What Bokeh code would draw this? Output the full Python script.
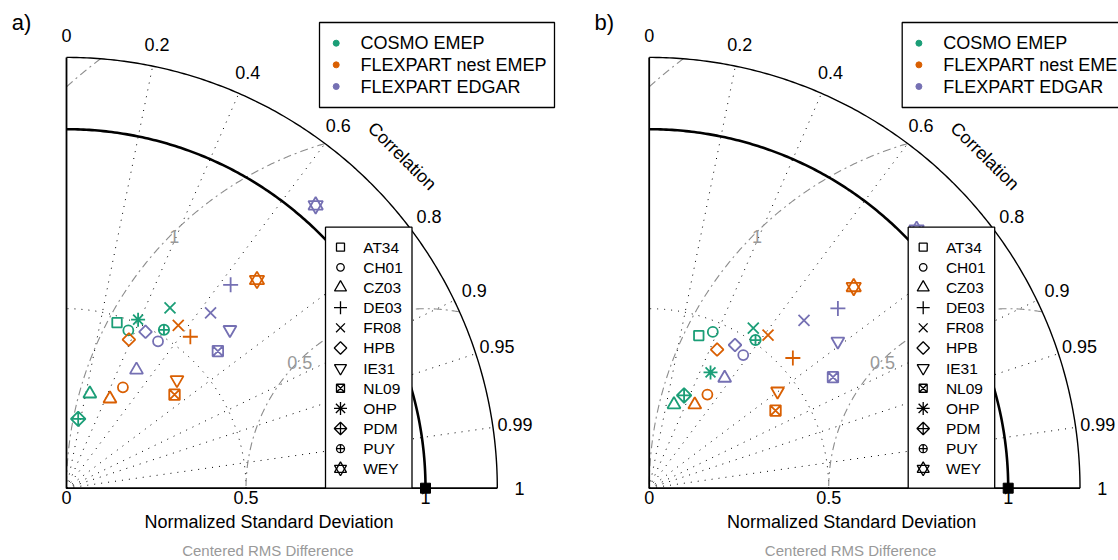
import numpy as np
from bokeh.plotting import figure
from bokeh.layouts import row
from bokeh.models import Range1d
from bokeh.core.properties import value
from bokeh.embed import file_html
from bokeh.resources import INLINE

nan = float("nan")

# ---------------- data ----------------
stations = ["AT34", "CH01", "CZ03", "DE03", "FR08", "HPB", "IE31", "NL09", "OHP", "PDM", "PUY", "WEY"]
models = ["COSMO EMEP", "FLEXPART nest EMEP", "FLEXPART EDGAR"]
model_colors = ["#1b9e77", "#d95f02", "#7570b3"]

corr_lines = [0.2, 0.4, 0.6, 0.8, 0.9, 0.95, 0.99]
corr_label_values = [0, 0.2, 0.4, 0.6, 0.8, 0.9, 0.95, 0.99, 1]
corr_label_texts = ["0", "0.2", "0.4", "0.6", "0.8", "0.9", "0.95", "0.99", "1"]
std_ticks = [0, 0.5, 1]
std_tick_labels = ["0", "0.5", "1"]
std_max = 1.2
rms_levels = [0.5, 1.0, 1.5]
rms_label_levels = [0.5, 1.0]
rms_label_texts = ["0.5", "1"]
panel_tags = ["a)", "b)"]

# panel a) normalized std and correlation per station (nan = not shown)
a_cosmo_std = [0.482, 0.472, 0.271, nan, 0.579, nan, nan, nan, 0.510, 0.196, 0.518, nan]
a_cosmo_corr = [0.292, 0.365, 0.240, nan, 0.498, nan, nan, nan, 0.391, 0.166, 0.524, nan]
a_nest_std = [nan, 0.322, 0.277, 0.545, 0.550, 0.449, 0.431, 0.398, nan, nan, nan, 0.786]
a_nest_corr = [nan, 0.488, 0.437, 0.633, 0.566, 0.387, 0.714, 0.756, nan, nan, nan, 0.675]
a_edgar_std = [nan, 0.482, 0.383, 0.728, 0.632, 0.488, 0.634, 0.569, nan, nan, nan, 1.050]
a_edgar_corr = [nan, 0.529, 0.509, 0.628, 0.635, 0.451, 0.718, 0.741, nan, nan, nan, 0.661]

# panel b)
b_cosmo_std = [0.447, 0.470, 0.243, nan, 0.532, nan, nan, nan, 0.365, 0.276, 0.508, nan]
b_cosmo_corr = [0.309, 0.377, 0.284, nan, 0.545, nan, nan, nan, 0.468, 0.352, 0.583, nan]
b_nest_std = [nan, 0.307, 0.265, 0.540, 0.540, 0.430, 0.448, 0.413, nan, nan, nan, 0.799]
b_nest_corr = [nan, 0.528, 0.479, 0.741, 0.613, 0.440, 0.798, 0.852, nan, nan, nan, 0.713]
b_edgar_std = [nan, 0.454, 0.372, 0.726, 0.636, 0.465, 0.666, 0.598, nan, nan, nan, 1.036]
b_edgar_corr = [nan, 0.577, 0.565, 0.724, 0.678, 0.514, 0.789, 0.856, nan, nan, nan, 0.719]

ref_std = [1.0]
ref_corr = [1.0]

panels = [
    [(a_cosmo_std, a_cosmo_corr), (a_nest_std, a_nest_corr), (a_edgar_std, a_edgar_corr)],
    [(b_cosmo_std, b_cosmo_corr), (b_nest_std, b_nest_corr), (b_edgar_std, b_edgar_corr)],
]

# ---------------- styles ----------------
FONT = value("Liberation Sans")
U = 359.0  # px per unit of normalized std
Q = np.pi / 4
H = 560
ORIGIN_Y = 487.7  # px from top

MARK = {
    "AT34": [("square", 9.5, 0)],
    "CH01": [("circle", 10, 0)],
    "CZ03": [("triangle", 13, 0)],
    "DE03": [("cross", 15, 0)],
    "FR08": [("x", 15.5, 0)],
    "HPB": [("square", 9, Q)],
    "IE31": [("inverted_triangle", 13, 0)],
    "NL09": [("square_x", 10.5, 0)],
    "OHP": [("asterisk", 14, 0)],
    "PDM": [("square_x", 10.3, Q)],
    "PUY": [("circle_cross", 10.3, 0)],
    "WEY": [("triangle", 14.5, 0), ("inverted_triangle", 14.5, 0)],
}
LMARK = {
    "AT34": [("square", 8, 0)],
    "CH01": [("circle", 7.5, 0)],
    "CZ03": [("triangle", 12, 0)],
    "DE03": [("cross", 13, 0)],
    "FR08": [("x", 12.5, 0)],
    "HPB": [("square", 8.8, Q)],
    "IE31": [("inverted_triangle", 12, 0)],
    "NL09": [("square_x", 8, 0)],
    "OHP": [("asterisk", 13, 0)],
    "PDM": [("square_x", 8.8, Q)],
    "PUY": [("circle_cross", 8, 0)],
    "WEY": [("triangle", 12, 0), ("inverted_triangle", 12, 0)],
}


def txt(p, x, y, t, size, color="black", align="center", baseline="middle", angle=0.0):
    p.text(x=[x], y=[y], text=[t], text_font=FONT, text_font_size=value(size),
           text_color=color, text_align=align, text_baseline=baseline, angle=angle)


def polar(std, corr):
    s = np.asarray(std, dtype=float)
    c = np.asarray(corr, dtype=float)
    return s * c, s * np.sqrt(np.clip(1 - c ** 2, 0, 1))


def make_panel(idx, left_px, width):
    x0 = -left_px / U
    p = figure(width=width, height=H, x_range=Range1d(x0, x0 + width / U),
               y_range=Range1d(-(H - ORIGIN_Y) / U, ORIGIN_Y / U),
               output_backend="svg", toolbar_location=None, min_border=0,
               x_axis_type=None, y_axis_type=None, outline_line_color=None,
               background_fill_color="white", border_fill_color="white")
    p.grid.visible = False

    # std arc (dotted) at 0.5
    t = np.linspace(0, np.pi / 2, 200)
    p.line(0.5 * np.cos(t), 0.5 * np.sin(t), line_color="black", line_width=1, line_dash="1 6")
    # correlation rays
    for c in corr_lines:
        th = np.arccos(c)
        p.line([0, std_max * np.cos(th)], [0, std_max * np.sin(th)],
               line_color="black", line_width=1, line_dash="1 6")
    # centered RMS arcs
    for R in rms_levels:
        xo = (1 + std_max ** 2 - R ** 2) / 2
        ph0 = np.arccos(np.clip((xo - 1) / R, -1, 1))
        ph1 = np.pi if R <= 1 else np.arccos(-1 / R)
        ph = np.linspace(ph0, ph1, 300)
        p.line(1 + R * np.cos(ph), R * np.sin(ph), line_color="#8c8c8c",
               line_width=1.1, line_dash="8 4 2 4")
    for R, lab in zip(rms_label_levels, rms_label_texts):
        txt(p, 1 - R * np.cos(Q) * 0.99, R * np.sin(Q) * 0.99, lab, "18px", color="#999999")

    # frame: outer arc, axes, reference arc
    p.line(std_max * np.cos(t), std_max * np.sin(t), line_color="black", line_width=1.4)
    p.line([0, 0], [0, std_max], line_color="black", line_width=1.8)
    p.line([0, std_max], [0, 0], line_color="black", line_width=1.8)
    p.line(np.cos(t), np.sin(t), line_color="black", line_width=2.6)

    # data
    for (sd, cr), col in zip(panels[idx], model_colors):
        xs, ys = polar(sd, cr)
        for k, st in enumerate(stations):
            if np.isnan(xs[k]):
                continue
            for m, s, a in MARK[st]:
                p.scatter(x=[xs[k]], y=[ys[k]], marker=m, size=s, angle=a,
                          line_color=col, fill_alpha=0, line_width=1.8)

    # reference point
    rx, ry = polar(ref_std, ref_corr)
    p.scatter(x=rx, y=ry, marker="square", size=10, fill_color="black", line_color="black")

    # correlation labels
    for cv, lab in zip(corr_label_values, corr_label_texts):
        th = np.arccos(cv)
        txt(p, 1.262 * np.cos(th), 1.262 * np.sin(th), lab, "18px")
    txt(p, 0.935, 0.925, "Correlation", "18px", angle=-0.78)

    # std tick labels and titles
    for v, lab in zip(std_ticks, std_tick_labels):
        txt(p, v, -0.026, lab, "18px")
    txt(p, 0.564, -0.093, "Normalized Standard Deviation", "18px")
    txt(p, 0.561, -0.1735, "Centered RMS Difference", "15px", color="#999999")
    txt(p, -45 / U, 465.7 / U, panel_tags[idx], "22px")

    # model legend
    p.quad(left=[253 / U], right=[488 / U], top=[465.7 / U], bottom=[380.7 / U],
           fill_color="white", line_color="black", line_width=1.3)
    for j, (name, col) in enumerate(zip(models, model_colors)):
        yy = (445.0 - j * 21.65) / U
        p.scatter(x=[269.7 / U], y=[yy], marker="circle", size=6, fill_color=col, line_color=col)
        txt(p, 294 / U, yy, name, "18px", align="left")

    # station legend
    p.quad(left=[259 / U], right=[345.5 / U], top=[261 / U], bottom=[0],
           fill_color="white", line_color="black", line_width=1.3)
    for k, st in enumerate(stations):
        yy = (241.0 - k * 20.15) / U
        for m, s, a in LMARK[st]:
            p.scatter(x=[274 / U], y=[yy], marker=m, size=s, angle=a,
                      line_color="black", fill_alpha=0, line_width=1.3)
        txt(p, 296.7 / U, yy, st, "15.5px", align="left")
    return p


pa = make_panel(0, 66.0, 567)
pb = make_panel(1, 81.7, 551)
layout = row(pa, pb)

open("out.html", "w").write(file_html(layout, INLINE))
